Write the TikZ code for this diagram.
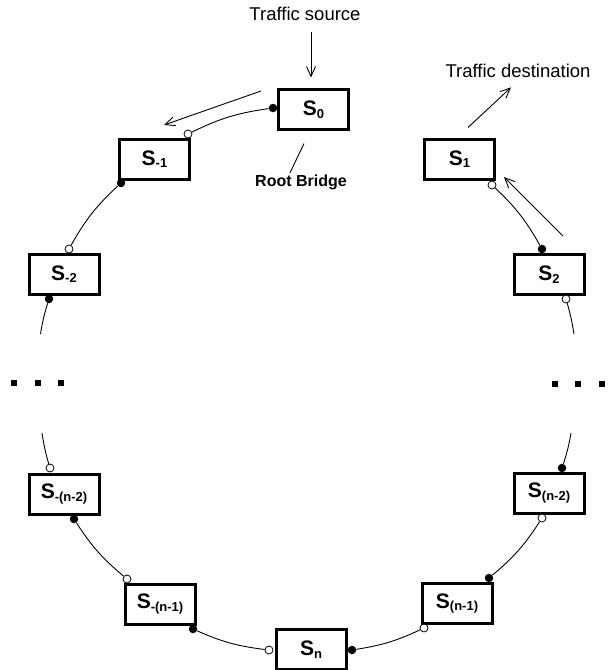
\documentclass[tikz,border=0pt]{standalone}
\usepackage{fontspec}
\setmainfont{Liberation Sans}
\usetikzlibrary{arrows.meta}
% bridge label: bold S with a lowered subscript
\newcommand{\swlabel}[1]{\fontsize{21}{24}\selectfont\bfseries S\raisebox{-2.5pt}{\fontsize{13}{15}\selectfont #1}}
\begin{document}
\begin{tikzpicture}[x=1pt,y=-1pt,
  bridge/.style={draw,line width=3pt,minimum width=70pt,minimum height=40pt,inner sep=0pt,fill=white},
  link/.style={line width=0.9pt},
  flow/.style={line width=0.9pt,-{Straight Barb[length=10pt,width=9pt,line width=0.9pt]}},
  plug/.style={circle,fill=black,inner sep=0pt,minimum size=8.5pt},
  jack/.style={circle,draw,fill=white,line width=0.8pt,inner sep=0pt,minimum size=8pt},
  note/.style={inner sep=0pt,font=\fontsize{18.5}{22}\selectfont},
  more/.style={fill=black,inner sep=0pt,minimum size=6pt}
]
\useasboundingbox (0,0) rectangle (614,670);

% bridges on the ring
\node[bridge] (s0)   at (313.5,109.5) {\swlabel{0}};
\node[bridge] (sm1)  at (154.5,159)   {\swlabel{-1}};
\node[bridge] (sm2)  at (64,274)      {\swlabel{-2}};
\node[bridge] (smn2) at (64,494)      {\swlabel{-(n-2)}};
\node[bridge] (smn1) at (160,604)     {\swlabel{-(n-1)}};
\node[bridge] (sn)   at (311,649.5)   {\swlabel{n}};
\node[bridge] (spn1) at (457,603.5)   {\swlabel{(n-1)}};
\node[bridge] (spn2) at (549,493)     {\swlabel{(n-2)}};
\node[bridge] (s2)   at (549,274.5)   {\swlabel{2}};
\node[bridge] (s1)   at (459.5,159)   {\swlabel{1}};

% ports: filled = one side, open = other side
\node[plug] (p0)    at (273,108) {};
\node[jack] (m1a)   at (188,134) {};
\node[plug] (m1b)   at (121,183) {};
\node[jack] (m2a)   at (69,249)  {};
\node[plug] (m2b)   at (49,299)  {};
\node[jack] (mn2a)  at (50,468)  {};
\node[plug] (mn2b)  at (74,519)  {};
\node[jack] (mn1a)  at (127,579) {};
\node[plug] (mn1b)  at (193,629) {};
\node[jack] (na)    at (269,650) {};
\node[plug] (nb)    at (352,650) {};
\node[jack] (pn1a)  at (424,628) {};
\node[plug] (pn1b)  at (489,578) {};
\node[jack] (pn2a)  at (542,518) {};
\node[plug] (pn2b)  at (562,468) {};
\node[jack] (p2a)   at (566,299) {};
\node[plug] (p2b)   at (542,249) {};
\node[jack] (p1a)   at (492,185) {};

% open ends of the ring where it is elided
\coordinate (l1) at (40.5,334);
\coordinate (l2) at (42,433);
\coordinate (r1) at (574,334);
\coordinate (r2) at (571,433);

% ring links
\draw[link] (p0)   to[bend right=9]   (m1a);
\draw[link] (m1b)  to[bend right=8.8] (m2a);
\draw[link] (m2b)  to[bend right=3.9] (l1);
\draw[link] (l2)   to[bend right=3.8] (mn2a);
\draw[link] (mn2b) to[bend right=8.6] (mn1a);
\draw[link] (mn1b) to[bend right=8.4] (na);
\draw[link] (nb)   to[bend right=8]   (pn1a);
\draw[link] (pn1b) to[bend right=8.6] (pn2a);
\draw[link] (pn2b) to[bend right=4]   (r2);
\draw[link] (r1)   to[bend right=3.3] (p2a);
\draw[link] (p2b)  to[bend right=8.6] (p1a);

% elision marks
\foreach \i/\x/\y in {a/14/383,b/38/383,c/61/383,d/555/384,e/578/384,f/602/384}
  \node[more] (dot\i) at (\x,\y) {};

% labels
\node[note,anchor=base] (src) at (305,20.7) {Traffic source};
\node[note,anchor=base] (dst) at (518,77) {Traffic destination};
\node[inner sep=0pt,anchor=base,font=\fontsize{16}{19}\selectfont\bfseries] (rb) at (301,186) {Root Bridge};

\draw[flow] ([xshift=6pt,yshift=-11.3pt]src.south) -- ([xshift=-2.5pt,yshift=10.5pt]s0.north);
\draw[flow] ([xshift=8.5pt,yshift=10pt]s1.north) -- ([xshift=-7pt,yshift=-10pt]dst.south);
\draw[link] ([xshift=-9.5pt,yshift=-12.5pt]s0.south) -- ([xshift=-11pt,yshift=1.4pt]rb.north);

% traffic direction along the ring
\coordinate (fwdA) at (261,91);
\coordinate (fwdB) at (164,125);
\coordinate (retA) at (563,236);
\coordinate (retB) at (504,177);
\draw[flow] (fwdA) -- (fwdB);
\draw[flow] (retA) -- (retB);
\end{tikzpicture}
\end{document}
